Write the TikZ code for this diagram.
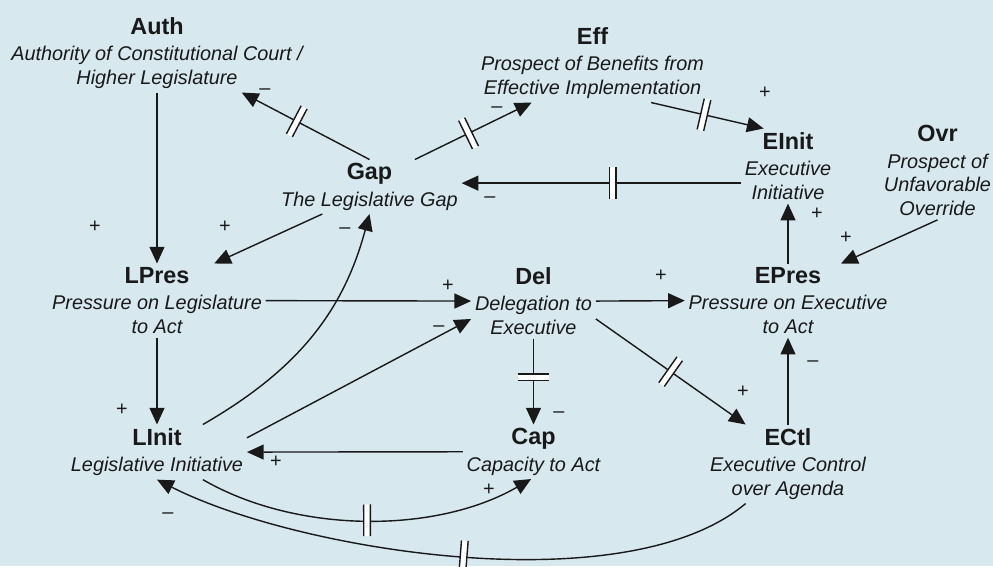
\documentclass[tikz,border=0pt]{standalone}
\usepackage{fontspec}
\setmainfont{Liberation Sans}
\usetikzlibrary{arrows.meta}
\usetikzlibrary{decorations.markings}

\definecolor{bgblue}{RGB}{215,232,239}
\definecolor{ink}{RGB}{25,25,25}

\newcommand{\titlefont}{\normalfont\bfseries\fontsize{13.3}{16}\selectfont}
\newcommand{\descfont}{\itshape\fontsize{11.3}{13.6}\selectfont}
% two bars with a white gap, across the link
\newcommand{\delaymark}{%
  \fill[white] (-1.9pt,-9pt) rectangle (1.9pt,9pt);
  \draw[-,ink,line width=0.8pt] (-1.9pt,-9pt) -- (-1.9pt,9pt) (1.9pt,-9pt) -- (1.9pt,9pt);}

\tikzset{
  var/.style={align=center, font=\descfont, inner sep=2pt, anchor=north, text=ink},
  link/.style={draw=ink, line width=0.8pt, -{Triangle[length=9.5pt,width=8.5pt]}},
  sgn/.style={font=\fontsize{11.3}{13}\selectfont, inner sep=0pt, text height=0.6em, text depth=0pt, text=ink},
  delayed/.style={postaction={decorate,decoration={markings,mark=at position #1 with {\delaymark}}}},
}

\begin{document}
\begin{tikzpicture}[x=0.02cm,y=0.02cm]
    % Background and size
    \fill[bgblue] (0,0) rectangle (993,-566);
    \useasboundingbox (0,0) rectangle (993,-566);

    % Variables
    \node[var] (auth) at (157,-13.5) {{\titlefont Auth}\\[1.4pt]Authority of Constitutional Court /\\Higher Legislature};
    \node[var] (eff) at (592.5,-23.5) {{\titlefont Eff}\\[1.4pt]Prospect of Benefits from\\Effective Implementation};
    \node[var] (gap) at (369.5,-159.5) {{\titlefont Gap}\\[1.4pt]The Legislative Gap};
    \node[var] (einit) at (788,-128.5) {{\titlefont EInit}\\[1.4pt]Executive\\Initiative};
    \node[var] (ovr) at (937.5,-121.5) {{\titlefont Ovr}\\[1.4pt]Prospect of\\Unfavorable\\Override};
    \node[var] (lpres) at (157,-263.5) {{\titlefont LPres}\\[1.4pt]Pressure on Legislature\\to Act};
    \node[var] (del) at (533.5,-263.5) {{\titlefont Del}\\[1.4pt]Delegation to\\Executive};
    \node[var] (epres) at (788,-263.5) {{\titlefont EPres}\\[1.4pt]Pressure on Executive\\to Act};
    \node[var] (linit) at (157,-424.5) {{\titlefont LInit}\\[1.4pt]Legislative Initiative};
    \node[var] (cap) at (533.5,-424.5) {{\titlefont Cap}\\[1.4pt]Capacity to Act};
    \node[var] (ectl) at (788,-424.5) {{\titlefont ECtl}\\[1.4pt]Executive Control\\over Agenda};

    % Links
    \draw[link] (auth.south) -- (lpres.north);
    \draw[link,delayed=0.57] (gap.north) -- (auth.-25);
    \draw[link,delayed=0.46] (gap.31) -- (eff.213);
    \draw[link,delayed=0.47] (eff.-34) -- (einit.123);
    \draw[link,delayed=0.46] (einit.200) -- (einit.200 -| gap.east);
    \draw[link] (epres.north) -- (einit.south);
    \draw[link] (ovr.south) -- (epres.35);
    \draw[link] (gap.210) -- (lpres.33);
    \draw[link] (lpres.east) -- (del.west);
    \draw[link] (lpres.south) -- (linit.north);
    \draw[link] (linit.31) to[out=30,in=-105] (gap.south);
    \draw[link] (linit.9) -- (del.196);
    \draw[link] (cap.west) -- (linit.east);
    \draw[link,delayed=0.5] (linit.-31) to[out=-30,in=-150,looseness=0.85] (cap.-95);
    \draw[link,delayed=0.48] (ectl.223) to[out=-140,in=-27,looseness=0.68] (linit.south);
    \draw[link,delayed=0.45] (del.south) -- (cap.north);
    \draw[link] (del.east) -- (epres.west);
    \draw[link,delayed=0.5] (del.-16) -- (ectl.137);
    \draw[link] (ectl.north) -- (epres.south);

    % Polarity signs
    \node[sgn] (s1) at (95,-227) {+};
    \node[sgn] (s2) at (265,-89) {–};
    \node[sgn] (s3) at (497,-107) {–};
    \node[sgn] (s4) at (765,-93) {+};
    \node[sgn] (s5) at (490,-197) {–};
    \node[sgn] (s6) at (817,-214) {+};
    \node[sgn] (s7) at (846,-238) {+};
    \node[sgn] (s8) at (225,-227) {+};
    \node[sgn] (s9) at (448,-286) {+};
    \node[sgn] (s10) at (122,-410) {+};
    \node[sgn] (s11) at (345,-228) {–};
    \node[sgn] (s12) at (439,-326) {–};
    \node[sgn] (s13) at (276,-462) {+};
    \node[sgn] (s14) at (489,-490) {+};
    \node[sgn] (s15) at (168,-513) {–};
    \node[sgn] (s16) at (559,-412) {–};
    \node[sgn] (s17) at (661,-276) {+};
    \node[sgn] (s18) at (743,-392) {+};
    \node[sgn] (s19) at (813,-361) {–};
\end{tikzpicture}
\end{document}
